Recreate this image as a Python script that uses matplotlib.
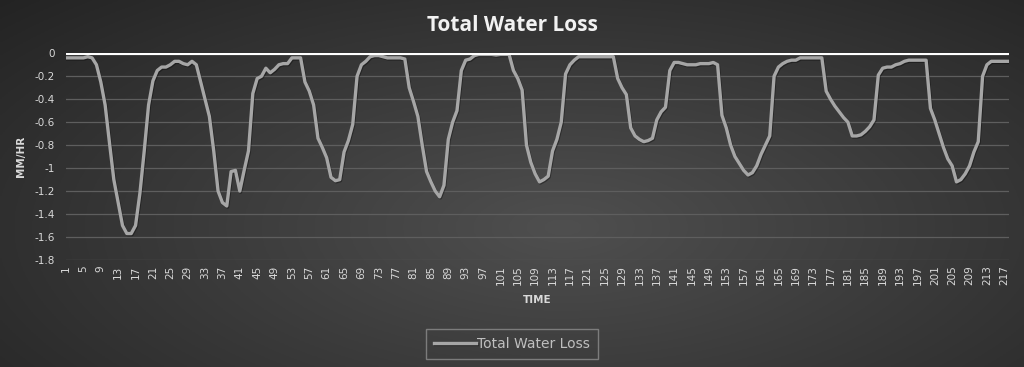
import matplotlib
matplotlib.use('Agg')
import matplotlib.pyplot as plt
import matplotlib.patheffects as pe
import numpy as np

# values (mm/hr)
water_loss = [
    -0.04, -0.04, -0.04, -0.04, -0.04, -0.03, -0.04, -0.10, -0.25, -0.45,
    -0.78, -1.10, -1.30, -1.50, -1.57, -1.57, -1.50, -1.22, -0.85, -0.45,
    -0.24, -0.15, -0.12, -0.12, -0.10, -0.07, -0.07, -0.09, -0.10, -0.07,
    -0.10, -0.25, -0.40, -0.55, -0.85, -1.20, -1.30, -1.33, -1.03, -1.02,
    -1.20, -1.02, -0.85, -0.35, -0.22, -0.20, -0.13, -0.17, -0.14, -0.10,
    -0.09, -0.09, -0.04, -0.04, -0.04, -0.25, -0.33, -0.45, -0.74, -0.82,
    -0.91, -1.08, -1.11, -1.10, -0.86, -0.76, -0.62, -0.20, -0.10, -0.07,
    -0.03, -0.02, -0.02, -0.03, -0.04, -0.04, -0.04, -0.04, -0.05, -0.30,
    -0.42, -0.55, -0.80, -1.03, -1.12, -1.20, -1.25, -1.15, -0.75, -0.60,
    -0.50, -0.15, -0.06, -0.05, -0.02, -0.01, -0.01, -0.01, -0.01, -0.015,
    -0.01, -0.01, -0.01, -0.15, -0.22, -0.32, -0.80, -0.95, -1.05, -1.12,
    -1.10, -1.07, -0.85, -0.75, -0.60, -0.18, -0.10, -0.06, -0.03, -0.03,
    -0.03, -0.03, -0.03, -0.03, -0.03, -0.03, -0.03, -0.22, -0.30, -0.36,
    -0.65, -0.72, -0.75, -0.77, -0.76, -0.74, -0.58, -0.51, -0.47, -0.15,
    -0.08, -0.08, -0.09, -0.10, -0.10, -0.10, -0.09, -0.09, -0.09, -0.08,
    -0.10, -0.54, -0.65, -0.80, -0.90, -0.96, -1.02, -1.06, -1.04, -0.98,
    -0.88, -0.80, -0.72, -0.20, -0.12, -0.09, -0.07, -0.06, -0.06, -0.04,
    -0.04, -0.04, -0.04, -0.04, -0.04, -0.33, -0.40, -0.46, -0.51, -0.56,
    -0.60, -0.72, -0.72, -0.71, -0.68, -0.64, -0.58, -0.19, -0.13, -0.12,
    -0.12, -0.10, -0.09, -0.07, -0.06, -0.06, -0.06, -0.06, -0.06, -0.48,
    -0.58, -0.70, -0.82, -0.92, -0.98, -1.12, -1.10, -1.05, -0.98, -0.86,
    -0.77, -0.20, -0.10, -0.07, -0.07, -0.07, -0.07, -0.07,
]
time = list(range(1, len(water_loss) + 1))
y_ticks = [0, -0.2, -0.4, -0.6, -0.8, -1, -1.2, -1.4, -1.6, -1.8]
x_ticks = list(range(1, len(water_loss) + 1, 4))

fig = plt.figure(figsize=(10.24, 3.67), dpi=100)

# radial gray background like the excel style
bg = fig.add_axes([0, 0, 1, 1])
gx, gy = np.meshgrid(np.linspace(0, 1, 400), np.linspace(0, 1, 200))
r = np.sqrt(((gx - 0.55) / 0.75) ** 2 + ((gy - 0.62) / 0.9) ** 2)
shade = np.clip(0.31 - 0.17 * r, 0.13, 0.31)
bg.imshow(np.dstack([shade] * 3), aspect='auto', extent=[0, 1, 0, 1], origin='upper')
bg.axis('off')

ax = fig.add_axes([0.0645, 0.2916, 0.9205, 0.5632])
ax.patch.set_alpha(0)

ax.plot(time, water_loss, color='#a6a6a6', lw=2.4, solid_joinstyle='round',
        label='Total Water Loss',
        path_effects=[pe.SimpleLineShadow(offset=(0.6, -0.8), alpha=0.35), pe.Normal()])

ax.set_xlim(1, len(water_loss))
ax.set_ylim(-1.8, 0)
ax.set_yticks(y_ticks)
ax.set_yticklabels([f'{v:g}' for v in y_ticks])
ax.set_xticks(x_ticks)
ax.set_xticklabels([str(t) for t in x_ticks], rotation=90)

ax.grid(axis='y', color='#5e5e5e', lw=0.9)
ax.set_axisbelow(True)
ax.axhline(0, color='white', lw=3, zorder=3)
for s in ax.spines.values():
    s.set_visible(False)
ax.tick_params(length=0, colors='#d9d9d9', labelsize=7.5)
ax.tick_params(axis='x', pad=4)
ax.tick_params(axis='y', pad=8)

ax.set_ylabel('MM/HR', color='#d9d9d9', fontsize=7.5, fontweight='bold', labelpad=6)
ax.set_xlabel('TIME', color='#d9d9d9', fontsize=7.5, fontweight='bold', labelpad=7)

fig.text(0.5, 0.93, 'Total Water Loss', ha='center', va='center', color='#f2f2f2',
         fontsize=15, fontweight='bold', family='Open Sans')

leg = ax.legend(loc='center', bbox_to_anchor=(0.5, 0.063), bbox_transform=fig.transFigure,
                frameon=True, fancybox=False, fontsize=10, handlelength=3.0,
                handletextpad=0.1, borderpad=0.6, borderaxespad=0)
leg.get_frame().set_facecolor('none')
leg.get_frame().set_edgecolor('#8c8c8c')
for t in leg.get_texts():
    t.set_color('#bfbfbf')

fig.savefig('out.png', dpi=100)
